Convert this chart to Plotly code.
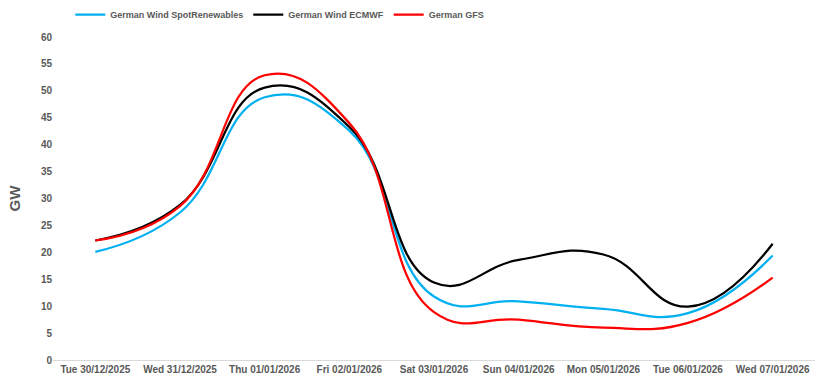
import plotly.graph_objects as go

dates = ["Tue 30/12/2025", "Wed 31/12/2025", "Thu 01/01/2026", "Fri 02/01/2026",
         "Sat 03/01/2026", "Sun 04/01/2026", "Mon 05/01/2026", "Tue 06/01/2026",
         "Wed 07/01/2026"]
spot_renewables = [20.1, 27.4, 48.8, 42.6, 11.8, 10.9, 9.5, 8.7, 19.4]
ecmwf = [22.2, 28.8, 50.6, 43.3, 14.4, 18.6, 19.6, 9.9, 21.6]
gfs = [22.2, 28.6, 52.9, 44.0, 8.9, 7.5, 6.0, 6.9, 15.3]

series = [
    ("German Wind SpotRenewables", spot_renewables, "#00B0F0"),
    ("German Wind ECMWF", ecmwf, "#000000"),
    ("German GFS", gfs, "#FF0000"),
]

fig = go.Figure()
for name, vals, color in series:
    fig.add_trace(go.Scatter(
        x=dates, y=vals, name=f"<b>{name}</b>", mode="lines",
        line=dict(color=color, width=2.25, shape="spline", smoothing=1.3),
    ))

font_main = "Liberation Sans, Arial, sans-serif"
grey = "#595959"

fig.update_layout(
    width=823, height=380,
    margin=dict(l=53, r=8, t=37, b=20, autoexpand=False),
    paper_bgcolor="white", plot_bgcolor="white",
    showlegend=True,
    legend=dict(orientation="h", x=0.34, xanchor="center", xref="container",
                y=1.0, yanchor="top", yref="container",
                font=dict(family=font_main, size=9, color=grey),
                itemwidth=30, tracegroupgap=0),
    xaxis=dict(type="category", range=[-0.5, 8.5], showgrid=False, showline=True,
               linecolor="#D9D9D9", linewidth=1, ticks="", tickangle=0,
               tickprefix="<b>", ticksuffix="</b>",
               tickfont=dict(family=font_main, size=10, color=grey)),
    yaxis=dict(range=[0, 60], dtick=5, showgrid=False, zeroline=False, showline=False,
               ticks="", tickprefix="<b>", ticksuffix="</b>",
               tickfont=dict(family=font_main, size=10, color=grey),
               title=dict(text="<b>GW</b>", font=dict(family=font_main, size=15, color=grey),
                          standoff=16)),
)
fig.write_html("out.html", config={"displayModeBar": False},
               post_script="document.body.style.margin='0';")
